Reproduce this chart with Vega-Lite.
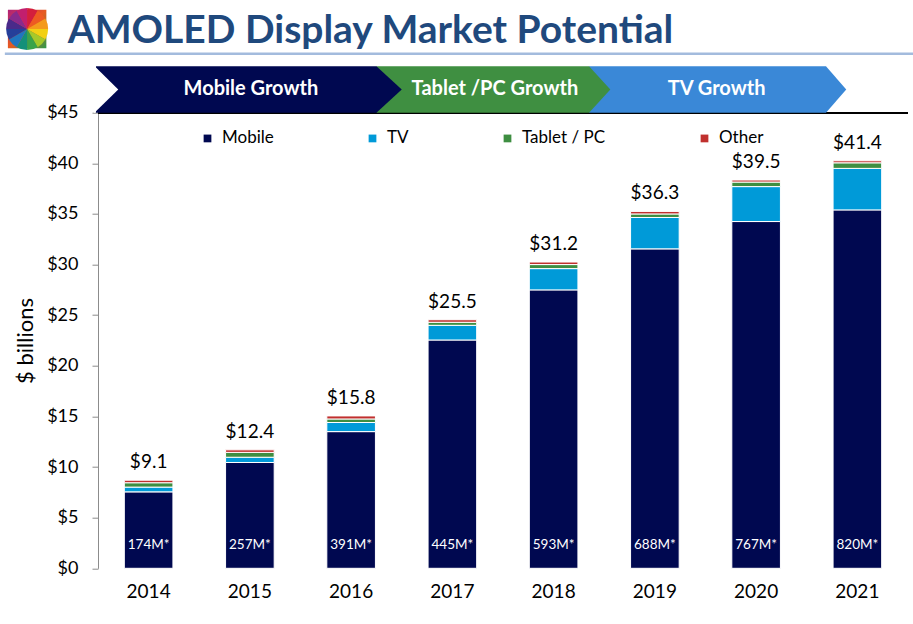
{
  "$schema": "https://vega.github.io/schema/vega-lite/v6.json",
  "width": 810,
  "height": 455.6,
  "autosize": {"type": "none"},
  "padding": {"left": 98, "top": 112.7, "right": 5, "bottom": 55.7},
  "background": "white",
  "config": {
    "font": "Lato",
    "view": {"stroke": null},
    "axis": {"labelFont": "Lato", "titleFont": "Lato"},
    "legend": {"labelFont": "Lato"}
  },
  "datasets": {
    "market": [
      {"year": "2014", "segment": "Mobile", "value": 7.55},
      {"year": "2014", "segment": "TV", "value": 0.47},
      {"year": "2014", "segment": "Tablet / PC", "value": 0.43},
      {"year": "2014", "segment": "Other", "value": 0.25},
      {"year": "2015", "segment": "Mobile", "value": 10.45},
      {"year": "2015", "segment": "TV", "value": 0.52},
      {"year": "2015", "segment": "Tablet / PC", "value": 0.48},
      {"year": "2015", "segment": "Other", "value": 0.25},
      {"year": "2016", "segment": "Mobile", "value": 13.5},
      {"year": "2016", "segment": "TV", "value": 0.9},
      {"year": "2016", "segment": "Tablet / PC", "value": 0.35},
      {"year": "2016", "segment": "Other", "value": 0.3},
      {"year": "2017", "segment": "Mobile", "value": 22.55},
      {"year": "2017", "segment": "TV", "value": 1.45},
      {"year": "2017", "segment": "Tablet / PC", "value": 0.3},
      {"year": "2017", "segment": "Other", "value": 0.25},
      {"year": "2018", "segment": "Mobile", "value": 27.5},
      {"year": "2018", "segment": "TV", "value": 2.1},
      {"year": "2018", "segment": "Tablet / PC", "value": 0.4},
      {"year": "2018", "segment": "Other", "value": 0.25},
      {"year": "2019", "segment": "Mobile", "value": 31.55},
      {"year": "2019", "segment": "TV", "value": 3.1},
      {"year": "2019", "segment": "Tablet / PC", "value": 0.35},
      {"year": "2019", "segment": "Other", "value": 0.25},
      {"year": "2020", "segment": "Mobile", "value": 34.25},
      {"year": "2020", "segment": "TV", "value": 3.45},
      {"year": "2020", "segment": "Tablet / PC", "value": 0.45},
      {"year": "2020", "segment": "Other", "value": 0.2},
      {"year": "2021", "segment": "Mobile", "value": 35.4},
      {"year": "2021", "segment": "TV", "value": 4.1},
      {"year": "2021", "segment": "Tablet / PC", "value": 0.55},
      {"year": "2021", "segment": "Other", "value": 0.2}
    ],
    "totals": [
      {"year": "2014", "total": "$9.1", "units": "174M*"},
      {"year": "2015", "total": "$12.4", "units": "257M*"},
      {"year": "2016", "total": "$15.8", "units": "391M*"},
      {"year": "2017", "total": "$25.5", "units": "445M*"},
      {"year": "2018", "total": "$31.2", "units": "593M*"},
      {"year": "2019", "total": "$36.3", "units": "688M*"},
      {"year": "2020", "total": "$39.5", "units": "767M*"},
      {"year": "2021", "total": "$41.4", "units": "820M*"}
    ],
    "banners": [
      {"phase": "Mobile Growth", "x": 2013.48, "top": 49.6, "bottom": 45},
      {"phase": "Mobile Growth", "x": 2016.25, "top": 49.6, "bottom": 45},
      {"phase": "Mobile Growth", "x": 2016.5, "top": 47.3, "bottom": 47.3},
      {"phase": "Tablet /PC Growth", "x": 2016.25, "top": 49.6, "bottom": 45},
      {"phase": "Tablet /PC Growth", "x": 2018.35, "top": 49.6, "bottom": 45},
      {"phase": "Tablet /PC Growth", "x": 2018.56, "top": 47.3, "bottom": 47.3},
      {"phase": "TV Growth", "x": 2018.35, "top": 49.6, "bottom": 45},
      {"phase": "TV Growth", "x": 2020.69, "top": 49.6, "bottom": 45},
      {"phase": "TV Growth", "x": 2020.89, "top": 47.3, "bottom": 47.3}
    ],
    "notch": [
      {"x": 2013.46, "top": 49.65, "bottom": 44.95},
      {"x": 2013.7, "top": 47.3, "bottom": 47.3}
    ],
    "phases": [
      {"phase": "Mobile Growth", "center": 2015.01},
      {"phase": "Tablet /PC Growth", "center": 2017.42},
      {"phase": "TV Growth", "center": 2019.61}
    ],
    "wheel": [
      {"hue": 0, "share": 1}, {"hue": 1, "share": 1}, {"hue": 2, "share": 1},
      {"hue": 3, "share": 1}, {"hue": 4, "share": 1}, {"hue": 5, "share": 1},
      {"hue": 6, "share": 1}, {"hue": 7, "share": 1}, {"hue": 8, "share": 1},
      {"hue": 9, "share": 1}, {"hue": 10, "share": 1}, {"hue": 11, "share": 1}
    ],
    "heading": [{"title": "AMOLED Display Market Potential"}]
  },
  "layer": [
    {
      "data": {"name": "market"},
      "layer": [
        {
          "mark": {"type": "bar", "stroke": "white", "strokeWidth": 1},
          "encoding": {
            "x": {
              "field": "year", "type": "ordinal",
              "scale": {"paddingInner": 0.52, "paddingOuter": 0.26},
              "axis": {"title": null, "domain": false, "ticks": false, "tickSize": 0, "labelFontSize": 19, "labelColor": "#000000", "labelPadding": 14, "labelAngle": 0}
            },
            "y": {
              "field": "value", "type": "quantitative", "stack": "zero",
              "scale": {"domain": [0, 45], "nice": false},
              "axis": {"title": "$ billions", "values": [0, 5, 10, 15, 20, 25, 30, 35, 40, 45], "labelExpr": "'$' + datum.value", "grid": false, "domainColor": "#8c8c8c", "tickColor": "#8c8c8c", "tickSize": 6, "labelFontSize": 18, "labelColor": "#000000", "labelPadding": 14, "titleFontSize": 22, "titleFontWeight": "normal", "titleColor": "#000000", "titlePadding": 9}
            },
            "order": {"field": "value", "type": "quantitative", "sort": "descending"},
            "color": {
              "field": "segment", "type": "nominal",
              "scale": {"domain": ["Mobile", "TV", "Tablet / PC", "Other"], "range": ["#000850", "#009ad8", "#3e8e41", "#c0302e"]},
              "legend": {"title": null, "orient": "none", "legendX": 101, "legendY": 17, "direction": "horizontal", "symbolType": "square", "symbolSize": 60, "symbolStrokeWidth": 0, "labelFontSize": 17, "labelColor": "#000000", "columnPadding": 90, "labelOffset": 6, "padding": 0}
            }
          }
        },
        {
          "mark": {"type": "rule", "color": "#000000", "strokeWidth": 1.5},
          "encoding": {"y": {"datum": 45, "type": "quantitative"}}
        },
        {
          "transform": [
            {"aggregate": [{"op": "sum", "field": "value", "as": "top"}], "groupby": ["year"]},
            {"lookup": "year", "from": {"data": {"name": "totals"}, "key": "year", "fields": ["total"]}}
          ],
          "mark": {"type": "text", "fontSize": 19, "color": "#000000", "dy": -12, "baseline": "alphabetic"},
          "encoding": {
            "x": {"field": "year", "type": "ordinal"},
            "y": {"field": "top", "type": "quantitative"},
            "text": {"field": "total"}
          }
        },
        {
          "data": {"name": "totals"},
          "mark": {"type": "text", "fontSize": 13.5, "color": "#ffffff", "dy": -23, "baseline": "middle"},
          "encoding": {
            "x": {"field": "year", "type": "ordinal"},
            "y": {"datum": 0, "type": "quantitative"},
            "text": {"field": "units"}
          }
        }
      ]
    },
    {
      "layer": [
        {
          "data": {"name": "banners"},
          "transform": [{"filter": "datum.phase === 'TV Growth'"}],
          "mark": {"type": "area", "color": "#3a88d7", "interpolate": "linear"},
          "encoding": {
            "x": {"field": "x", "type": "quantitative", "scale": {"domain": [2013.5, 2021.5], "nice": false, "zero": false}, "axis": null},
            "y": {"field": "top", "type": "quantitative", "stack": null, "scale": {"domain": [0, 45], "nice": false}, "axis": null},
            "y2": {"field": "bottom"}
          }
        },
        {
          "data": {"name": "banners"},
          "transform": [{"filter": "datum.phase === 'Tablet /PC Growth'"}],
          "mark": {"type": "area", "color": "#3f8f41", "interpolate": "linear"},
          "encoding": {
            "x": {"field": "x", "type": "quantitative"},
            "y": {"field": "top", "type": "quantitative", "stack": null},
            "y2": {"field": "bottom"}
          }
        },
        {
          "data": {"name": "banners"},
          "transform": [{"filter": "datum.phase === 'Mobile Growth'"}],
          "mark": {"type": "area", "color": "#000850", "interpolate": "linear"},
          "encoding": {
            "x": {"field": "x", "type": "quantitative"},
            "y": {"field": "top", "type": "quantitative", "stack": null},
            "y2": {"field": "bottom"}
          }
        },
        {
          "data": {"name": "notch"},
          "mark": {"type": "area", "color": "#ffffff", "interpolate": "linear"},
          "encoding": {
            "x": {"field": "x", "type": "quantitative"},
            "y": {"field": "top", "type": "quantitative", "stack": null},
            "y2": {"field": "bottom"}
          }
        },
        {
          "data": {"name": "phases"},
          "mark": {"type": "text", "color": "#ffffff", "fontWeight": "bold", "fontSize": 20, "baseline": "middle"},
          "encoding": {
            "x": {"field": "center", "type": "quantitative"},
            "y": {"datum": 47.3, "type": "quantitative"},
            "text": {"field": "phase"}
          }
        },
        {
          "data": {"name": "heading"},
          "mark": {"type": "text", "color": "#1f497d", "fontWeight": "bold", "fontSize": 39, "align": "left", "baseline": "alphabetic"},
          "encoding": {
            "x": {"datum": 2013.2, "type": "quantitative"},
            "y": {"datum": 51.86, "type": "quantitative"},
            "text": {"field": "title"}
          }
        },
        {
          "data": {"name": "heading"},
          "mark": {"type": "rule", "color": "#a3bbdd", "strokeWidth": 2.5},
          "encoding": {
            "x": {"datum": 2012.58, "type": "quantitative"},
            "x2": {"datum": 2021.55},
            "y": {"datum": 50.82, "type": "quantitative"}
          }
        },
        {
          "data": {"name": "heading"},
          "mark": {"type": "square", "size": 1480, "opacity": 1, "fill": {"gradient": "linear", "x1": 0, "y1": 0, "x2": 1, "y2": 1, "stops": [{"offset": 0, "color": "#b0207a"}, {"offset": 0.5, "color": "#e85a20"}, {"offset": 1, "color": "#2e9a48"}]}, "strokeWidth": 0},
          "encoding": {
            "x": {"datum": 2012.8, "type": "quantitative"},
            "y": {"datum": 53.27, "type": "quantitative"}
          }
        },
        {
          "data": {"name": "wheel"},
          "mark": {"type": "arc", "outerRadius": 21},
          "encoding": {
            "x": {"datum": 2012.8, "type": "quantitative"},
            "y": {"datum": 53.27, "type": "quantitative"},
            "theta": {"field": "share", "type": "quantitative", "stack": true},
            "order": {"field": "hue", "type": "quantitative"},
            "color": {"field": "hue", "type": "ordinal", "legend": null, "scale": {"range": ["#d41f3c", "#ee5a22", "#f49a1c", "#f2d014", "#a6c92a", "#3aa34a", "#139079", "#1f76c0", "#253f9a", "#4a2a8a", "#8a2a8c", "#c21f6e"]}}
          }
        }
      ]
    }
  ],
  "resolve": {"scale": {"x": "independent", "y": "independent", "color": "independent"}}
}
